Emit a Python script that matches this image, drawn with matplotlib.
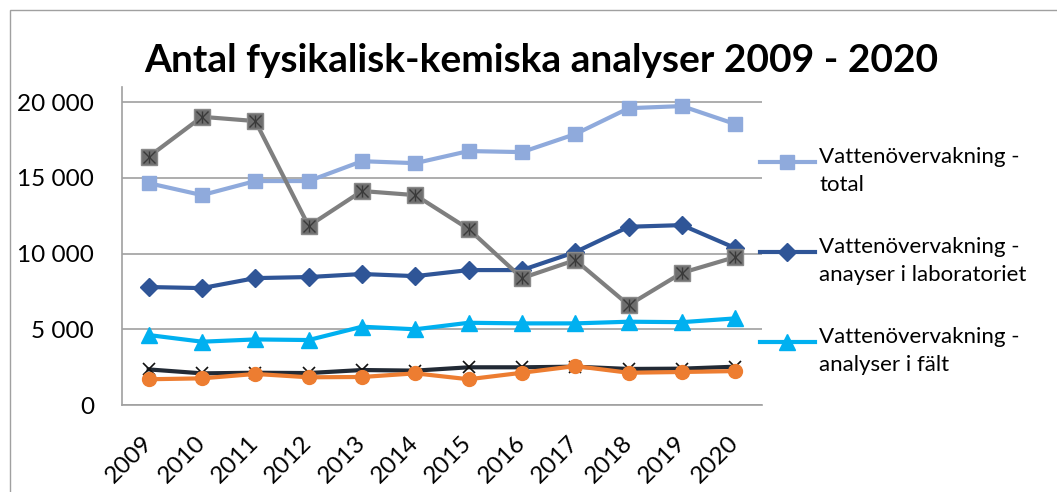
import matplotlib.pyplot as plt
import matplotlib.patches as mpatches
from matplotlib.lines import Line2D
from matplotlib.ticker import FuncFormatter

plt.rcParams['font.family'] = ['Lato', 'DejaVu Sans']

years = ['2009', '2010', '2011', '2012', '2013', '2014',
         '2015', '2016', '2017', '2018', '2019', '2020']

total = [14650, 13860, 14790, 14790, 16100, 15970,
         16770, 16700, 17890, 19600, 19740, 18550]
laboratoriet = [7790, 7720, 8380, 8450, 8650, 8510,
                8910, 8910, 10100, 11770, 11880, 10360]
falt = [4620, 4180, 4330, 4290, 5170, 5000,
        5430, 5390, 5390, 5500, 5470, 5720]
grå_serie = [16390, 19030, 18750, 11820, 14130, 13860,
             11620, 8380, 9570, 6600, 8730, 9770]
svart_serie = [2350, 2090, 2130, 2110, 2310, 2270,
               2490, 2490, 2530, 2380, 2400, 2530]
orange_serie = [1700, 1760, 2050, 1830, 1850, 2090,
                1700, 2130, 2570, 2130, 2180, 2240]

labels = ['Vattenövervakning -\ntotal',
          'Vattenövervakning -\nanayser i laboratoriet',
          'Vattenövervakning -\nanalyser i fält']

W, H = 1057, 492
fig = plt.figure(figsize=(W / 100, H / 100), dpi=100)
ax = fig.add_axes([122 / W, 1 - 405 / H, 640 / W, 318 / H])

x = list(range(len(years)))

# stilar för serierna som finns i förklaringen
stil = [
    dict(color='#8FAADC', lw=3, marker='s', ms=10),
    dict(color='#2F5597', lw=3, marker='D', ms=9),
    dict(color='#00B0F0', lw=3, marker='^', ms=11),
]

ax.plot(x, total, **stil[0])
ax.plot(x, laboratoriet, **stil[1])
ax.plot(x, falt, **stil[2])
ax.plot(x, grå_serie, color='#7F7F7F', lw=3, marker='s', ms=11,
        markerfacecolor='#6E6E6E', markeredgecolor='#8A8A8A')
ax.plot(x, grå_serie, ls='none', marker='x', ms=9, mew=1, color='#3A3A3A')
ax.plot(x, grå_serie, ls='none', marker='|', ms=9, mew=1, color='#3A3A3A')
ax.plot(x, svart_serie, color='#222A35', lw=3, marker='x', ms=9, mew=1.2,
        markeredgecolor='#111111')
ax.plot(x, orange_serie, color='#ED7D31', lw=3, marker='o', ms=10)

ax.set_xlim(-0.5, len(years) - 0.5)
ax.set_ylim(0, 21000)
ax.set_yticks([0, 5000, 10000, 15000, 20000])
ax.yaxis.set_major_formatter(FuncFormatter(lambda v, p: f'{int(v):,}'.replace(',', ' ')))
ax.set_xticks(x)
ax.set_xticklabels(years, rotation=45, ha='right', va='center', rotation_mode='anchor')
ax.tick_params(axis='both', length=0, labelsize=17.5)
ax.tick_params(axis='y', pad=20)
ax.tick_params(axis='x', pad=25)

ax.grid(axis='y', color='#A0A0A0', lw=1.2)
ax.set_axisbelow(True)
for s in ['top', 'right']:
    ax.spines[s].set_visible(False)
for s in ['left', 'bottom']:
    ax.spines[s].set_color('#A0A0A0')
    ax.spines[s].set_linewidth(1.2)

# förklaring, symbolen i höjd med första textraden
for i, (lbl, st) in enumerate(zip(labels, stil)):
    yl = 1 - (162 + i * 90) / H
    fig.add_artist(Line2D([760 / W, 787 / W, 815 / W], [yl, yl, yl],
                          transform=fig.transFigure, markevery=[1], **st))
    fig.text(819 / W, yl + 15 / H, lbl, ha='left', va='top', fontsize=16,
             linespacing=1.5)

fig.text(0.512, 1 - 60 / H, 'Antal fysikalisk-kemiska analyser 2009 - 2020',
         ha='center', va='center', fontsize=28, fontweight='bold')

fig.add_artist(mpatches.Rectangle((10 / W, -0.1), 1.2, 1.1 - 10 / H,
                                  transform=fig.transFigure, fill=False,
                                  edgecolor='#A0A0A0', lw=1))

fig.savefig('out.png', dpi=100)
